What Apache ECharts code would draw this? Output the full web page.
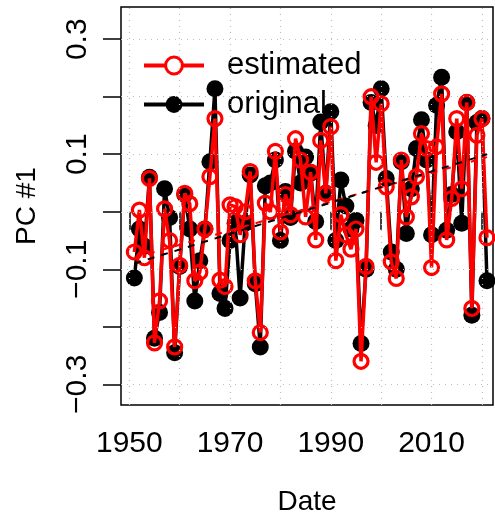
<!DOCTYPE html>
<html>
<head>
<meta charset="utf-8">
<script src="https://cdn.jsdelivr.net/npm/echarts@6/dist/echarts.min.js"></script>
<style>
  html, body { margin: 0; padding: 0; background: #fff; }
  #chart { width: 495px; height: 522px; }
</style>
</head>
<body>
<div id="chart"></div>
<script>
// vuodet ja arvot luettu kuvasta
const years = [];
for (let y = 1951; y <= 2021; y++) years.push(y);

const original = [
  -0.115, -0.03, -0.06, 0.06, -0.22, -0.175, 0.04, -0.01, -0.245, -0.095,
  0.03, -0.03, -0.155, -0.085, -0.03, 0.087, 0.214, -0.142, -0.168, -0.05,
  -0.02, -0.15, -0.02, 0.064, -0.125, -0.235, 0.045, 0.05, 0.09, -0.05,
  0.035, -0.01, 0.105, 0.05, 0.095, 0.067, -0.017, 0.156, 0.032, 0.174,
  -0.05, 0.055, 0.01, -0.03, -0.015, -0.229, -0.1, 0.19, 0.15, 0.214,
  0.058, -0.07, -0.1, 0.087, -0.038, 0.04, 0.11, 0.16, 0.09, -0.04,
  0.185, 0.234, -0.032, 0.03, 0.139, -0.02, 0.19, -0.18, 0.155, 0.162,
  -0.12
];

const estimated = [
  -0.07, 0.003, -0.08, 0.058, -0.228, -0.155, 0.005, -0.05, -0.235, -0.093,
  0.032, 0.014, -0.12, -0.105, -0.03, 0.061, 0.162, -0.119, -0.13, 0.012,
  0.009, -0.04, 0.0, 0.07, -0.12, -0.21, 0.015, 0.0, 0.105, -0.035,
  0.03, -0.005, 0.127, 0.09, -0.009, 0.069, -0.049, 0.124, 0.032, 0.148,
  -0.085, -0.005, -0.04, -0.065, -0.03, -0.26, -0.095, 0.2, 0.086, 0.188,
  0.043, -0.087, -0.116, 0.09, -0.009, 0.026, 0.061, 0.136, 0.11, -0.097,
  0.113, 0.205, -0.049, 0.023, 0.162, 0.04, 0.19, -0.168, 0.133, 0.162,
  -0.045
];

// trendiviivojen päätepisteet
const trendOriginal = [[1951, -0.09], [2021, 0.1]];
const trendEstimated = [[1951, -0.08], [2021, 0.095]];

const xTicks = [1950, 1960, 1970, 1980, 1990, 2000, 2010, 2020];
const xLabels = [1950, 1970, 1990, 2010];
const yTicks = [-0.3, -0.2, -0.1, 0, 0.1, 0.2, 0.3];
const yLabels = [-0.3, -0.1, 0.1, 0.3];

const font = 'Liberation Sans, Arial, sans-serif';

const myChart = echarts.init(document.getElementById('chart'));

const option = {
  animation: false,
  grid: {
    left: 121, top: 7, right: 2, bottom: 117,
    show: true, borderColor: '#000', borderWidth: 1.5, backgroundColor: 'transparent'
  },
  legend: {
    data: [
      { name: 'estimated', itemStyle: { color: '#fff', borderColor: '#ff0000', borderWidth: 3 } },
      { name: 'original' }
    ],
    orient: 'vertical',
    left: 137, top: 45,
    itemWidth: 60, itemHeight: 21, itemGap: 8,
    lineStyle: { width: 4 },
    textStyle: { fontFamily: font, fontSize: 31, color: '#000', padding: [0, 0, 0, 18] }
  },
  xAxis: {
    type: 'value',
    min: 1948.35, max: 2022.2,
    name: 'Date', nameLocation: 'middle', nameGap: 83,
    nameTextStyle: { fontFamily: font, fontSize: 28, color: '#000' },
    axisLine: { show: false },
    axisTick: { show: true, customValues: xTicks, length: 18, lineStyle: { color: '#000', width: 1.5 } },
    axisLabel: {
      customValues: xLabels, margin: 24, fontFamily: font, fontSize: 30, color: '#000',
      formatter: v => String(v)
    },
    splitLine: { show: false }
  },
  yAxis: {
    type: 'value',
    min: -0.336, max: 0.356,
    name: 'PC #1', nameLocation: 'middle', nameGap: 80, nameRotate: 90,
    nameTextStyle: { fontFamily: font, fontSize: 28, color: '#000' },
    axisLine: { show: false },
    axisTick: { show: true, customValues: yTicks, length: 18, lineStyle: { color: '#000', width: 1.5 } },
    axisLabel: {
      customValues: yLabels, rotate: 90, margin: 28,
      fontFamily: font, fontSize: 30, color: '#000',
      formatter: v => (v < 0 ? '\u2212' : '') + Math.abs(v).toFixed(1)
    },
    splitLine: { show: false }
  },
  series: [
    {
      name: 'gridlines',
      type: 'line',
      data: [],
      silent: true,
      markLine: {
        silent: true,
        symbol: 'none',
        label: { show: false },
        lineStyle: { color: '#bdbdbd', type: [1, 5], width: 1.2 },
        data: xTicks.map(v => ({ xAxis: v })).concat(yTicks.map(v => ({ yAxis: v })))
      }
    },
    {
      name: 'original',
      type: 'line',
      data: years.map((y, i) => [y, original[i]]),
      symbol: 'circle',
      symbolSize: 17,
      itemStyle: { color: '#000' },
      lineStyle: { color: '#000', width: 3.5 },
      z: 3
    },
    {
      name: 'estimated',
      type: 'line',
      data: years.map((y, i) => [y, estimated[i]]),
      symbol: 'circle',
      symbolSize: 14,
      itemStyle: { color: 'rgba(0,0,0,0)', borderColor: '#ff0000', borderWidth: 3.2 },
      lineStyle: { color: '#ff0000', width: 3.5 },
      z: 4
    },
    {
      name: 'trend estimated',
      type: 'line',
      data: trendEstimated,
      symbol: 'none',
      lineStyle: { color: '#ff0000', width: 2, type: [7, 7] },
      z: 5
    },
    {
      name: 'trend original',
      type: 'line',
      data: trendOriginal,
      symbol: 'none',
      lineStyle: { color: '#000', width: 2, type: [7, 7] },
      z: 5
    }
  ]
};

myChart.setOption(option);
</script>
</body>
</html>
